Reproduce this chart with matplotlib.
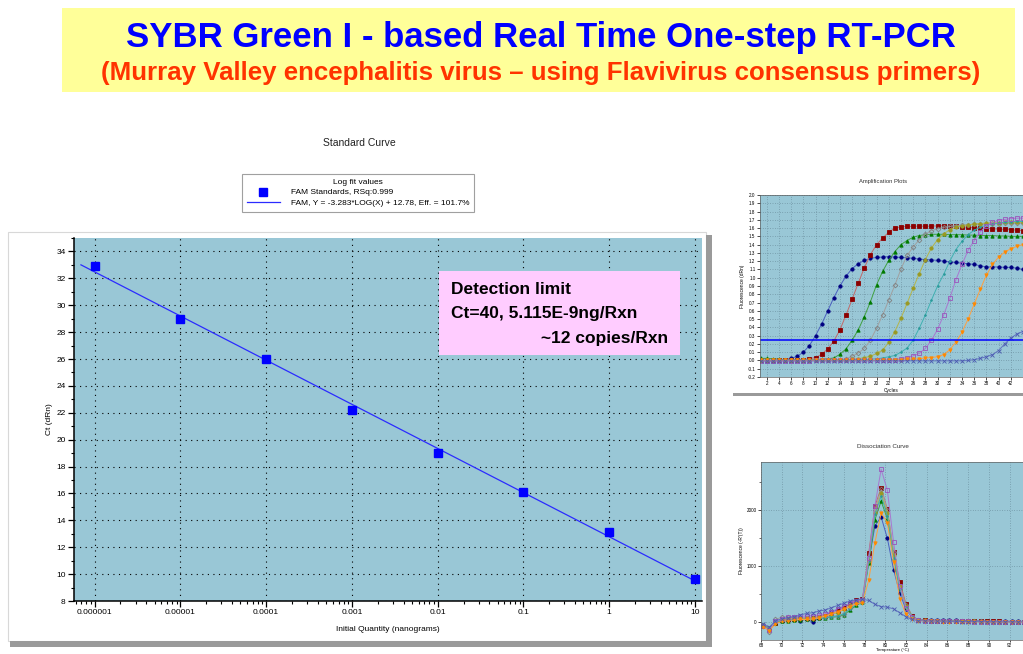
import numpy as np
import matplotlib
matplotlib.use('Agg')
from matplotlib import pyplot as plt
from matplotlib.patches import Rectangle
from matplotlib.ticker import LogLocator, NullFormatter, MultipleLocator

W, H = 1023, 654
FONT = ['Liberation Sans', 'DejaVu Sans']

# ---- standard curve (Ct vs initial quantity) ----
quantity_ng = [1e-6, 1e-5, 1e-4, 1e-3, 1e-2, 1e-1, 1, 10]
quantity_labels = ['0.000001', '0.00001', '0.0001', '0.001', '0.01', '0.1', '1', '10']
ct_values = [32.9, 29.0, 26.0, 22.2, 19.0, 16.1, 13.1, 9.6]
fit_slope = -3.283
fit_intercept = 12.78
fit_ends = [10 ** -6.16, 10]

# ---- amplification plots (dRn per cycle) ----
cycles = np.arange(1, 45)
amp_navy = [0.00, -0.005, -0.005, 0.00, 0.01, 0.025, 0.05, 0.10, 0.18, 0.30, 0.44,
            0.60, 0.76, 0.90, 1.02, 1.11, 1.17, 1.21, 1.235, 1.245, 1.25, 1.255,
            1.25, 1.245, 1.24, 1.235, 1.225, 1.22, 1.215, 1.21, 1.20, 1.19, 1.185,
            1.175, 1.17, 1.16, 1.145, 1.13, 1.13, 1.13, 1.125, 1.125, 1.115, 1.10]
amp_red = [0.00, 0.00, 0.00, 0.00, 0.00, 0.00, 0.005, 0.01, 0.02, 0.035, 0.075,
           0.14, 0.235, 0.37, 0.55, 0.74, 0.935, 1.12, 1.28, 1.40, 1.48, 1.55,
           1.60, 1.615, 1.62, 1.62, 1.625, 1.62, 1.625, 1.625, 1.63, 1.62, 1.62,
           1.615, 1.61, 1.605, 1.60, 1.595, 1.595, 1.585, 1.585, 1.58, 1.575, 1.57]
amp_green = [0.025, 0.025, 0.02, 0.015, 0.01, 0.01, 0.01, 0.01, 0.01, 0.01, 0.015,
             0.02, 0.03, 0.075, 0.14, 0.245, 0.37, 0.53, 0.71, 0.915, 1.077, 1.21,
             1.316, 1.40, 1.45, 1.49, 1.51, 1.52, 1.525, 1.525, 1.525, 1.52, 1.52,
             1.52, 1.515, 1.515, 1.51, 1.51, 1.51, 1.505, 1.505, 1.50, 1.50, 1.50]
amp_grey = [0.005, 0.005, 0.005, 0.005, 0.005, 0.005, 0.005, 0.005, 0.005, 0.005, 0.005,
            0.005, 0.005, 0.01, 0.02, 0.05, 0.09, 0.145, 0.245, 0.39, 0.55, 0.73,
            0.91, 1.105, 1.27, 1.37, 1.46, 1.525, 1.57, 1.59, 1.61, 1.62, 1.63,
            1.635, 1.64, 1.645, 1.65, 1.65, 1.655, 1.655, 1.66, 1.66, 1.66, 1.66]
amp_olive = [0.00, 0.00, 0.00, 0.00, 0.00, 0.00, 0.00, 0.00, 0.00, 0.005, 0.005,
             0.005, 0.01, 0.01, 0.01, 0.015, 0.02, 0.035, 0.05, 0.085, 0.125, 0.22,
             0.35, 0.51, 0.69, 0.875, 1.05, 1.22, 1.36, 1.46, 1.53, 1.58, 1.61,
             1.63, 1.64, 1.65, 1.655, 1.66, 1.665, 1.665, 1.67, 1.67, 1.67, 1.67]
amp_teal = [0.00, 0.00, 0.00, 0.00, 0.00, 0.00, 0.00, 0.00, 0.00, 0.00, 0.00,
            0.00, 0.005, 0.005, 0.005, 0.01, 0.01, 0.01, 0.015, 0.02, 0.03, 0.045,
            0.06, 0.10, 0.15, 0.245, 0.39, 0.55, 0.73, 0.90, 1.04, 1.20, 1.34,
            1.44, 1.52, 1.575, 1.61, 1.635, 1.65, 1.66, 1.67, 1.675, 1.68, 1.68]
amp_purple = [-0.005, -0.005, -0.005, -0.005, -0.005, -0.005, -0.005, -0.005, -0.005, 0.00, 0.00,
              0.00, 0.00, 0.00, 0.00, 0.00, 0.00, 0.00, 0.00, 0.00, 0.005, 0.005,
              0.01, 0.02, 0.035, 0.055, 0.085, 0.145, 0.245, 0.375, 0.55, 0.75, 0.975,
              1.16, 1.33, 1.45, 1.555, 1.63, 1.67, 1.69, 1.705, 1.715, 1.72, 1.72]
amp_orange = [0.00, 0.00, 0.00, 0.00, 0.00, 0.00, 0.00, 0.00, 0.00, 0.00, 0.00,
              0.00, 0.00, 0.00, 0.00, 0.00, 0.00, 0.00, 0.00, 0.005, 0.005, 0.005,
              0.01, 0.01, 0.015, 0.015, 0.02, 0.03, 0.035, 0.045, 0.07, 0.13, 0.22,
              0.34, 0.50, 0.68, 0.86, 1.03, 1.16, 1.25, 1.31, 1.35, 1.38, 1.40]
amp_slate = [-0.005, -0.005, -0.005, -0.005, -0.005, -0.005, -0.005, -0.005, -0.005, -0.005, -0.005,
             -0.005, -0.005, -0.005, -0.005, -0.005, -0.005, -0.005, -0.005, -0.005, -0.005, -0.005,
             -0.005, -0.005, -0.005, -0.005, -0.005, -0.005, -0.005, -0.005, -0.005, -0.005, -0.005,
             -0.005, 0.00, 0.01, 0.025, 0.045, 0.07, 0.12, 0.20, 0.27, 0.32, 0.35]
threshold = 0.25

# ---- dissociation (melt) curves, -R'(T) ----
melt_temps = np.round(np.arange(68.2, 93.5, 0.6), 1)
melt_navy = [-40, -100, 0, 30, 40, 50, 30, 60, 0, 80, 120, 180, 230, 280, 320, 370,
             400, 1080, 1720, 1880, 1500, 940, 520, 230, 90, 45,
             45, 42, 40, 38, 35, 33, 30, 28, 26, 25, 24, 22, 20, 20, 18, 18, 16]
melt_red = [-60, -120, -10, 40, 50, 60, 70, 80, 80, 100, 120, 150, 200, 260, 330, 400,
            420, 1230, 2070, 2400, 2020, 1250, 720, 330, 110, 45,
            35, 30, 28, 25, 24, 22, 20, 20, 18, 17, 16, 15, 15, 14, 14, 13, 13]
melt_green = [-50, -100, -10, 20, 30, 40, 40, 50, 60, 70, 80, 90, 100, 130, 220, 300,
              360, 1050, 1830, 2160, 1850, 1150, 620, 280, 100, 40,
              32, 28, 24, 22, 20, 19, 18, 17, 16, 15, 15, 14, 14, 13, 13, 12, 12]
melt_grey = [-50, -170, 50, 90, 100, 90, 80, 70, 80, 90, 100, 110, 120, 150, 250, 340,
             380, 1150, 2000, 2370, 2000, 1250, 650, 300, 100, 40,
             30, 26, 24, 22, 20, 18, 17, 16, 15, 15, 14, 14, 13, 13, 12, 12, 12]
melt_olive = [-40, -110, 10, 40, 60, 70, 70, 70, 80, 100, 120, 140, 170, 230, 300, 350,
              390, 1100, 1950, 2300, 1950, 1200, 640, 290, 100, 40,
              32, 28, 25, 22, 20, 18, 17, 16, 15, 14, 14, 13, 13, 12, 12, 12, 11]
melt_teal = [-60, -120, 10, 30, 40, 50, 50, 60, 60, 70, 80, 100, 110, 150, 240, 320,
             370, 1100, 1930, 2250, 1900, 1150, 600, 270, 100, 40,
             30, 26, 23, 21, 19, 17, 16, 15, 14, 14, 13, 13, 12, 12, 12, 11, 11]
melt_purple = [-70, -140, 20, 60, 90, 100, 110, 110, 120, 130, 150, 190, 240, 290, 340, 380,
               400, 1150, 2080, 2730, 2360, 1430, 650, 250, 90, 40,
               30, 25, 22, 20, 18, 16, 15, 15, 14, 13, 13, 12, 12, 12, 11, 11, 10]
melt_orange = [-80, -150, -30, 20, 30, 40, 50, 50, 60, 80, 110, 150, 190, 230, 280, 330,
               350, 750, 1420, 1950, 1780, 1070, 420, 140, 60, 30,
               25, 20, 15, 12, 10, 10, 10, 10, 10, 10, 10, 10, 10, 10, 10, 10, 10]
melt_slate = [-30, -90, 30, 60, 80, 100, 130, 160, 170, 200, 220, 260, 300, 340, 380, 400,
              410, 390, 320, 280, 270, 240, 170, 100, 50, 30,
              25, 22, 20, 18, 16, 15, 14, 13, 12, 12, 11, 11, 10, 10, 10, 10, 10]

# (line colour, marker colour, marker, filled)
styles = [('#4a5fc0', '#000080', 'o', True),
          ('#c06a6a', '#8b0000', 's', True),
          ('#40a040', '#007a00', '^', True),
          ('#a0a0a0', '#808080', 'D', False),
          ('#b4b44a', '#999922', 'o', True),
          ('#3fb0b0', '#2a9a9a', '.', True),
          ('#a878d0', '#9955bb', 's', False),
          ('#ffa040', '#ff8800', 'v', True),
          ('#6070c0', '#4a5ab0', 'x', True)]
amp_series = [amp_navy, amp_red, amp_green, amp_grey, amp_olive,
              amp_teal, amp_purple, amp_orange, amp_slate]
melt_series = [melt_navy, melt_red, melt_green, melt_grey, melt_olive,
               melt_teal, melt_purple, melt_orange, melt_slate]

plot_bg = '#99c7d6'
shadow = '#9a9a9a'

fig = plt.figure(figsize=(W / 100, H / 100), dpi=100)
plt.rcParams['font.family'] = FONT


def box(l, t, r, b):
    return [l / W, 1 - b / H, (r - l) / W, (b - t) / H]


def rect(l, t, r, b, color, z=-1, edge='none'):
    fig.add_artist(Rectangle((l / W, 1 - b / H), (r - l) / W, (b - t) / H,
                             transform=fig.transFigure, facecolor=color,
                             edgecolor=edge, linewidth=0.8, zorder=z))


def ftext(x, y, s, **kw):
    fig.text(x / W, 1 - y / H, s, **kw)


# title banner
rect(62, 8, 1015, 92, '#ffff99')
ftext(541, 38, 'SYBR Green I - based Real Time One-step RT-PCR', ha='center', va='center',
      fontsize=25, fontweight='bold', color='#0000ff')
ftext(541, 73, '(Murray Valley encephalitis virus \u2013 using Flavivirus consensus primers)',
      ha='center', va='center', fontsize=18.6, fontweight='bold', color='#ff3300')

# panel frames and drop shadows
rect(8, 232, 706, 641, 'white', edge='#d8d8d8')
rect(10, 641, 712, 647, shadow)
rect(706, 235, 712, 647, shadow)
rect(733, 393, 1023, 396, shadow)

# ---- standard curve ----
ftext(359, 143, 'Standard Curve', ha='center', va='center', fontsize=7.5, color='#222222')
ax = fig.add_axes(box(74, 238, 702, 601))
ax.set_facecolor(plot_bg)
ax.set_xscale('log')
ax.set_xlim(10 ** -6.241, 10 ** 1.082)
ax.set_ylim(8, 35)
fit_y = [fit_slope * np.log10(q) + fit_intercept for q in fit_ends]
fit_line, = ax.plot(fit_ends, fit_y, color='#2b2bff', lw=0.9,
                    label='FAM, Y = -3.283*LOG(X) + 12.78, Eff. = 101.7%')
pts, = ax.plot(quantity_ng, ct_values, 's', color='#0000ff', ms=5.2, linestyle='none',
               label='FAM Standards, RSq:0.999')
ax.set_xticks(quantity_ng)
ax.set_xticklabels(quantity_labels)
ax.xaxis.set_minor_locator(LogLocator(base=10, subs=range(2, 10), numticks=20))
ax.xaxis.set_minor_formatter(NullFormatter())
ax.set_yticks(range(8, 35, 2))
ax.yaxis.set_minor_locator(MultipleLocator(1))
ax.grid(which='major', color='black', linestyle=(0, (1, 4)), linewidth=0.8)
for s in ['top', 'right']:
    ax.spines[s].set_visible(False)
for s in ['left', 'bottom']:
    ax.spines[s].set_linewidth(1.1)
ax.tick_params(which='major', labelsize=6, length=4, width=0.9, pad=2)
ax.tick_params(which='minor', length=2.5, width=0.8)
ax.set_xlabel('Initial Quantity (nanograms)', fontsize=6, labelpad=7)
ax.set_ylabel('Ct (dRn)', fontsize=6, labelpad=2)

leg = fig.legend(handles=[pts, fit_line], title='Log fit values', loc='center',
                 bbox_to_anchor=(358 / W, 1 - 193 / H), fontsize=6, title_fontsize=6,
                 handlelength=4.0, handletextpad=1.3, fancybox=False, framealpha=1,
                 edgecolor='#a0a0a0', borderpad=0.6, labelspacing=0.3, borderaxespad=0)
leg.get_frame().set_linewidth(0.8)

# detection limit note
rect(439, 271, 680, 355, '#ffccff', z=5)
ftext(451, 289, 'Detection limit', ha='left', va='center', fontsize=12.5,
      fontweight='bold', zorder=6)
ftext(451, 314, 'Ct=40, 5.115E-9ng/Rxn', ha='left', va='center', fontsize=12.5,
      fontweight='bold', zorder=6)
ftext(668, 339, '~12 copies/Rxn', ha='right', va='center', fontsize=12.5,
      fontweight='bold', zorder=6)


def small_axes(ax):
    ax.set_facecolor(plot_bg)
    ax.grid(which='major', color='#5f7f8f', linestyle=(0, (1, 2.5)), linewidth=0.5)
    for s in ax.spines.values():
        s.set_linewidth(0.5)
        s.set_color('#606060')
    ax.tick_params(which='major', labelsize=3.3, length=2, width=0.5, pad=1.2)
    ax.tick_params(which='minor', length=1.2, width=0.4)


# ---- amplification plots ----
ftext(883, 181, 'Amplification Plots', ha='center', va='center', fontsize=4.2, color='#333333')
ax2 = fig.add_axes(box(760, 195, 1023, 377))
ax2.set_xlim(0.9, 44.0)
ax2.set_ylim(-0.2, 2.0)
ax2.set_xticks(range(2, 43, 2))
ax2.set_yticks(np.round(np.arange(-0.2, 2.01, 0.1), 1))
ax2.set_yticklabels(['%.1f' % v for v in np.round(np.arange(-0.2, 2.01, 0.1), 1)])
small_axes(ax2)
for vals, (lc, mc, mk, filled) in zip(amp_series, styles):
    ax2.plot(cycles, vals, color=lc, lw=0.7, marker=mk, ms=2.4,
             mfc=mc if filled else 'none', mec=mc, mew=0.6)
ax2.axhline(threshold, color='#0000ff', lw=1.1)
ax2.set_xlabel('Cycles', fontsize=3.5, labelpad=1)
ax2.set_ylabel('Fluorescence (dRn)', fontsize=3.5, labelpad=2)

# ---- dissociation curve ----
ftext(883, 447, 'Dissociation Curve', ha='center', va='center', fontsize=4.5, color='#333333')
ax3 = fig.add_axes(box(761, 462, 1023, 640))
ax3.set_xlim(68, 93.3)
ax3.set_ylim(-316, 2860)
ax3.set_xticks(range(68, 93, 2))
ax3.set_yticks([0, 1000, 2000])
ax3.yaxis.set_minor_locator(MultipleLocator(500))
small_axes(ax3)
ax3.tick_params(axis='x', which='major', pad=0.5, length=1.5)
for vals, (lc, mc, mk, filled) in zip(melt_series, styles):
    ax3.plot(melt_temps, vals, color=lc, lw=0.7, marker=mk, ms=2.4,
             mfc=mc if filled else 'none', mec=mc, mew=0.6)
ax3.set_xlabel('Temperature (\u00b0C)', fontsize=3.2, labelpad=0.1)
ax3.set_ylabel("Fluorescence (-R'(T))", fontsize=3.5, labelpad=2)

fig.savefig('out.png', dpi=100)
